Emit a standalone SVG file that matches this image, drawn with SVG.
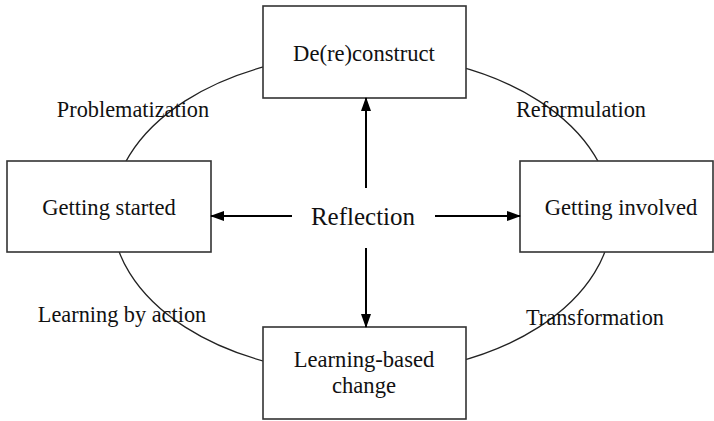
<svg xmlns="http://www.w3.org/2000/svg" width="714" height="421" viewBox="0 0 714 421">
<style>
.box{fill:#fff;stroke:#333;stroke-width:1.6}
.t{font-family:"Liberation Serif","Times New Roman",serif;font-size:22.6px;fill:#111;text-anchor:middle}
.lab{font-family:"Liberation Serif","Times New Roman",serif;font-size:22.3px;fill:#111;text-anchor:middle}
.arr{stroke:#000;stroke-width:2;fill:none;marker-end:url(#ah)}
</style>
<defs>
<marker id="ah" markerWidth="14" markerHeight="10" refX="13" refY="5" orient="auto" markerUnits="userSpaceOnUse">
<path d="M0,0 L14,5 L0,10 Z" fill="#000"/>
</marker>
</defs>
<rect width="714" height="421" fill="#fff"/>
<g id="cycle">
<ellipse cx="362" cy="214" rx="250" ry="160" fill="none" stroke="#222" stroke-width="1.3"/>
</g>
<g id="node-top"><rect class="box" x="263" y="6" width="203" height="92"/><text class="t" x="364" y="61">De(re)construct</text></g>
<g id="node-left"><rect class="box" x="7" y="161" width="204" height="91"/><text class="t" x="109" y="215">Getting started</text></g>
<g id="node-right"><rect class="box" x="520" y="161" width="193" height="91"/><text class="t" x="621" y="215">Getting involved</text></g>
<g id="node-bottom"><rect class="box" x="263" y="327" width="203" height="92"/><text class="t" x="364" y="367">Learning-based</text><text class="t" x="364" y="393">change</text></g>
<g id="center"><text class="t" x="363" y="225" style="font-size:25px">Reflection</text></g>
<g id="connectors">
<line class="arr" x1="366" y1="188" x2="366" y2="98"/>
<line class="arr" x1="366" y1="248" x2="366" y2="327"/>
<line class="arr" x1="292" y1="216" x2="211" y2="216"/>
<line class="arr" x1="435" y1="216" x2="520" y2="216"/>
</g>
<g id="labels">
<text class="lab" x="133" y="117">Problematization</text>
<text class="lab" x="581" y="117">Reformulation</text>
<text class="lab" x="122" y="322">Learning by action</text>
<text class="lab" x="595" y="325">Transformation</text>
</g>
</svg>
